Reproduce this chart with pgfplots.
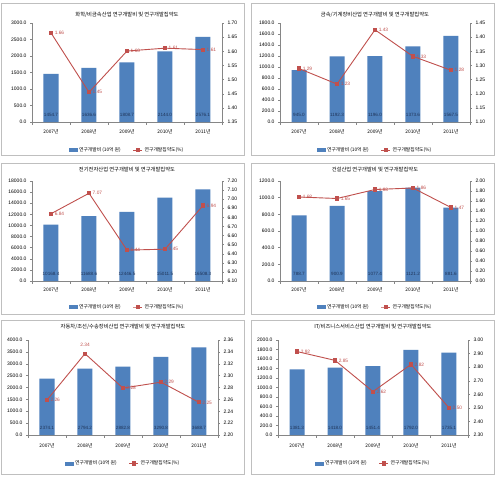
\documentclass[border=0pt]{standalone}
\usepackage{fontspec}
\setmainfont{Liberation Sans}
\newfontfamily\kr{Noto Sans CJK KR}
\usepackage{pgfplots}
\pgfplotsset{compat=1.18}
\definecolor{barblue}{HTML}{4F81BD}
\definecolor{linered}{HTML}{C0504D}
\definecolor{axgray}{HTML}{868686}
\definecolor{navy}{HTML}{1F3458}
\definecolor{frame}{HTML}{BFBFBF}
\newcommand{\tfont}{\kr\fontsize{5.3}{6}\selectfont}
\pgfplotsset{
  common/.style={scale only axis, width=190pt, xmin=-0.5, xmax=4.5,
    /pgf/number format/assume math mode=true, tick align=outside,
    tick style={axgray, line width=0.4pt}, axis line style={axgray, line width=0.5pt},
    major tick length=2pt, ticklabel style={font=\fontsize{5}{6}\selectfont, text=black},
    clip=false},
  barax/.style={common, axis x line*=bottom, axis y line*=left,
    xtick={0,...,4}, xticklabels={2007년,2008년,2009년,2010년,2011년},
    xticklabel style={font=\kr\fontsize{4.8}{6}\selectfont, anchor=center},
    major x tick style={draw=none}, minor xtick={-0.5,0.5,...,4.5},
    minor tick length=2.5pt, minor x tick style={axgray, line width=0.4pt},
    yticklabel style={/pgf/number format/.cd, fixed, fixed zerofill, precision=1, 1000 sep={}},
    scaled y ticks=false},
  lineax/.style={common, axis x line=none, axis y line*=right, scaled y ticks=false,
    yticklabel style={/pgf/number format/.cd, fixed, fixed zerofill, precision=2},
    legend columns=2,
    legend style={draw=none, fill=none, font=\kr\fontsize{4.8}{6}\selectfont, anchor=center,
      inner sep=0pt, /tikz/every even column/.append style={column sep=10pt}}},
  bars/.style={ybar, bar width=15pt, fill=barblue, draw=none},
  barlab/.style={draw=none, mark=none, nodes near coords, point meta=explicit symbolic,
    nodes near coords style={anchor=south, yshift=5pt, font=\fontsize{4.6}{5}\selectfont, text=navy, inner sep=0.5pt}},
  redline/.style={linered, line width=0.9pt, mark=square*, mark size=1.6pt,
    mark options={fill=linered, draw=linered, solid},
    legend image code/.code={\draw[mark repeat=2,mark phase=2] plot coordinates {(0pt,0pt) (4.5pt,0pt) (9pt,0pt)};}},
  linelab/.style={nodes near coords, point meta=explicit symbolic,
    nodes near coords style={anchor=west, xshift=2.8pt, text=linered, font=\fontsize{4.8}{5}\selectfont, inner sep=0.5pt}},
  barleg/.style={legend image code/.code={\fill[barblue] (0pt,-1.5pt) rectangle (8pt,1.5pt);}},
}
\begin{document}
\begin{tikzpicture}
\path[use as bounding box] (0,0) rectangle (496pt,-477pt);
\fill[white] (0,0) rectangle (496pt,-477pt);
\draw[frame, line width=0.6pt] (1pt,-3pt) rectangle (244pt,-155pt);
\draw[frame, line width=0.6pt] (251pt,-3pt) rectangle (494pt,-155pt);
\draw[frame, line width=0.6pt] (1pt,-163pt) rectangle (244pt,-314pt);
\draw[frame, line width=0.6pt] (251pt,-163pt) rectangle (494pt,-314pt);
\draw[frame, line width=0.6pt] (1pt,-320pt) rectangle (244pt,-474pt);
\draw[frame, line width=0.6pt] (251pt,-320pt) rectangle (494pt,-474pt);

% ---------- Panel 1 ----------
\begin{axis}[barax, at={(32pt,-23pt)}, anchor=north west, height=99pt,
  ymin=0, ymax=3000, ytick={0,500,...,3000}, xticklabel style={yshift=-8pt}]
\addplot[bars] coordinates {(0,1454.7) (1,1636.6) (2,1808.7) (3,2144.0) (4,2576.1)};
\addplot[barlab] coordinates {(0,0)[1454.7] (1,0)[1636.6] (2,0)[1808.7] (3,0)[2144.0] (4,0)[2576.1]};
\node[font=\tfont] at (rel axis cs:0.5,1) [yshift=8pt] {화학/비금속산업 연구개발비 및 연구개발집약도};
\end{axis}
\begin{axis}[lineax, at={(32pt,-23pt)}, anchor=north west, height=99pt,
  ymin=1.35, ymax=1.70, ytick={1.35,1.40,1.45,1.50,1.55,1.60,1.65,1.70},
  legend style={at={(0.5,-0.283)}}]
\addlegendimage{barleg}\addlegendentry{연구개발비 (10억 원)}
\addplot[redline, linelab] coordinates {(0,1.665)[1.66] (1,1.455)[1.45] (2,1.601)[1.60] (3,1.611)[1.61] (4,1.606)[1.61]};
\addlegendentry{연구개발집약도(\%)}
\end{axis}

% ---------- Panel 2 ----------
\begin{axis}[barax, at={(280pt,-23pt)}, anchor=north west, height=99pt,
  ymin=0, ymax=1800, ytick={0,200,...,1800}, xticklabel style={yshift=-8pt}]
\addplot[bars] coordinates {(0,945.0) (1,1192.3) (2,1196.0) (3,1373.6) (4,1567.5)};
\addplot[barlab] coordinates {(0,0)[945.0] (1,0)[1192.3] (2,0)[1196.0] (3,0)[1373.6] (4,0)[1567.5]};
\node[font=\tfont] at (rel axis cs:0.5,1) [yshift=8pt] {금속/기계장비산업 연구개발비 및 연구개발집약도};
\end{axis}
\begin{axis}[lineax, at={(280pt,-23pt)}, anchor=north west, height=99pt,
  ymin=1.10, ymax=1.45, ytick={1.10,1.15,1.20,1.25,1.30,1.35,1.40,1.45},
  legend style={at={(0.5,-0.283)}}]
\addlegendimage{barleg}\addlegendentry{연구개발비 (10억 원)}
\addplot[redline, linelab] coordinates {(0,1.289)[1.29] (1,1.234)[1.23] (2,1.426)[1.43] (3,1.332)[1.33] (4,1.283)[1.28]};
\addlegendentry{연구개발집약도(\%)}
\end{axis}

% ---------- Panel 3 ----------
\begin{axis}[barax, at={(32pt,-181pt)}, anchor=north west, height=100pt,
  ymin=0, ymax=18000, ytick={0,2000,...,18000}, xticklabel style={yshift=-6.5pt}]
\addplot[bars] coordinates {(0,10168.4) (1,11688.6) (2,12446.5) (3,15011.5) (4,16508.3)};
\addplot[barlab] coordinates {(0,0)[10168.4] (1,0)[11688.6] (2,0)[12446.5] (3,0)[15011.5] (4,0)[16508.3]};
\node[font=\tfont] at (rel axis cs:0.5,1) [yshift=11pt] {전기전자산업 연구개발비 및 연구개발집약도};
\end{axis}
\begin{axis}[lineax, at={(32pt,-181pt)}, anchor=north west, height=100pt,
  ymin=6.10, ymax=7.20, ytick={6.1,6.2,6.3,6.4,6.5,6.6,6.7,6.8,6.9,7.0,7.1,7.2},
  legend style={at={(0.5,-0.26)}}]
\addlegendimage{barleg}\addlegendentry{연구개발비 (10억 원)}
\addplot[redline, linelab] coordinates {(0,6.84)[6.84] (1,7.065)[7.07] (2,6.44)[6.44] (3,6.45)[6.45] (4,6.93)[6.94]};
\addlegendentry{연구개발집약도(\%)}
\end{axis}

% ---------- Panel 4 ----------
\begin{axis}[barax, at={(280pt,-181pt)}, anchor=north west, height=100pt,
  ymin=0, ymax=1200, ytick={0,200,...,1200}, xticklabel style={yshift=-6.5pt}]
\addplot[bars] coordinates {(0,788.7) (1,900.9) (2,1077.4) (3,1121.2) (4,881.6)};
\addplot[barlab] coordinates {(0,0)[788.7] (1,0)[900.9] (2,0)[1077.4] (3,0)[1121.2] (4,0)[881.6]};
\node[font=\tfont] at (rel axis cs:0.5,1) [yshift=11pt] {건설산업 연구개발비 및 연구개발집약도};
\end{axis}
\begin{axis}[lineax, at={(280pt,-181pt)}, anchor=north west, height=100pt,
  ymin=0, ymax=2, ytick={0,0.2,0.4,0.6,0.8,1.0,1.2,1.4,1.6,1.8,2.0},
  legend style={at={(0.5,-0.26)}}]
\addlegendimage{barleg}\addlegendentry{연구개발비 (10억 원)}
\addplot[redline, linelab] coordinates {(0,1.68)[1.68] (1,1.65)[1.65] (2,1.83)[1.83] (3,1.86)[1.86] (4,1.47)[1.47]};
\addlegendentry{연구개발집약도(\%)}
\end{axis}

% ---------- Panel 5 ----------
\begin{axis}[barax, at={(28pt,-340pt)}, anchor=north west, height=95pt,
  ymin=0, ymax=4000, ytick={0,500,...,4000}, xticklabel style={yshift=-9pt}]
\addplot[bars] coordinates {(0,2374.1) (1,2794.2) (2,2882.8) (3,3290.8) (4,3688.7)};
\addplot[barlab] coordinates {(0,0)[2374.1] (1,0)[2794.2] (2,0)[2882.8] (3,0)[3290.8] (4,0)[3688.7]};
\node[font=\tfont] at (rel axis cs:0.5,1) [yshift=13pt] {자동차/조선/수송장비산업 연구개발비 및 연구개발집약도};
\end{axis}
\begin{axis}[lineax, at={(28pt,-340pt)}, anchor=north west, height=95pt,
  ymin=2.20, ymax=2.36, ytick={2.20,2.22,2.24,2.26,2.28,2.30,2.32,2.34,2.36},
  legend style={at={(0.5,-0.30)}}]
\addlegendimage{barleg}\addlegendentry{연구개발비 (10억 원)}
\addplot[redline] coordinates {(0,2.259) (1,2.337) (2,2.279) (3,2.289) (4,2.255)};
\addlegendentry{연구개발집약도(\%)}
\addplot[draw=none, mark=none, linelab, forget plot] coordinates {(0,2.259)[2.26] (2,2.279)[2.28] (3,2.289)[2.29] (4,2.255)[2.25]};
\addplot[draw=none, mark=none, forget plot, nodes near coords, point meta=explicit symbolic,
  nodes near coords style={anchor=south, yshift=6pt, text=linered, font=\fontsize{4.8}{5}\selectfont, inner sep=0.5pt}]
  coordinates {(1,2.337)[2.34]};
\end{axis}

% ---------- Panel 6 ----------
\begin{axis}[barax, at={(278pt,-340pt)}, anchor=north west, height=95pt,
  ymin=0, ymax=2000, ytick={0,200,...,2000}, xticklabel style={yshift=-9pt}]
\addplot[bars] coordinates {(0,1381.3) (1,1418.0) (2,1451.4) (3,1792.0) (4,1735.1)};
\addplot[barlab] coordinates {(0,0)[1381.3] (1,0)[1418.0] (2,0)[1451.4] (3,0)[1792.0] (4,0)[1735.1]};
\node[font=\tfont] at (rel axis cs:0.5,1) [yshift=13pt] {IT/비즈니스서비스산업 연구개발비 및 연구개발집약도};
\end{axis}
\begin{axis}[lineax, at={(278pt,-340pt)}, anchor=north west, height=95pt,
  ymin=2.30, ymax=3.00, ytick={2.3,2.4,2.5,2.6,2.7,2.8,2.9,3.0},
  legend style={at={(0.5,-0.30)}}]
\addlegendimage{barleg}\addlegendentry{연구개발비 (10억 원)}
\addplot[redline, linelab] coordinates {(0,2.915)[2.92] (1,2.85)[2.85] (2,2.62)[2.62] (3,2.82)[2.82] (4,2.50)[2.50]};
\addlegendentry{연구개발집약도(\%)}
\end{axis}
\end{tikzpicture}
\end{document}
